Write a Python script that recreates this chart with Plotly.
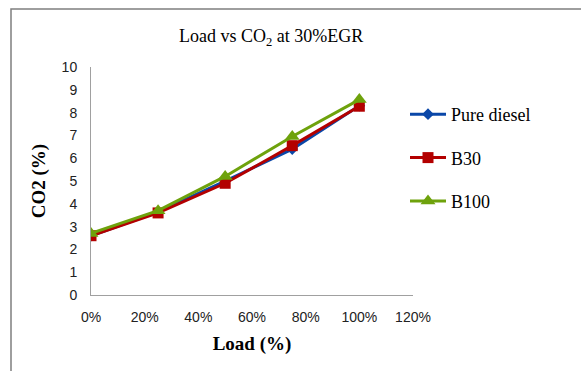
import plotly.graph_objects as go

load = [0, 0.25, 0.5, 0.75, 1.0]
pure_diesel = [2.6, 3.65, 5.0, 6.4, 8.3]
b30 = [2.6, 3.6, 4.9, 6.55, 8.28]
b100 = [2.7, 3.7, 5.2, 6.95, 8.57]

fig = go.Figure()
fig.add_trace(go.Scatter(x=load, y=pure_diesel, name="Pure diesel", mode="lines+markers", legendgroup="a",
                         line=dict(color="#0a47a8", width=3),
                         marker=dict(symbol="diamond", size=9, color="#0a47a8")))
fig.add_trace(go.Scatter(x=load, y=b30, name="B30", mode="lines+markers", legendgroup="b",
                         line=dict(color="#b30000", width=3),
                         marker=dict(symbol="square", size=11, color="#b30000")))
fig.add_trace(go.Scatter(x=load, y=b100, name="B100", mode="lines+markers", legendgroup="c",
                         line=dict(color="#6ea20c", width=3),
                         marker=dict(symbol="triangle-up", size=13, color="#6ea20c")))

L, R, T, B = 91, 168, 67, 76
pw = 581 - L - R
ph = 371 - T - B

def px(x):
    return (x - L) / pw

def py(y):
    return (371 - B - y) / ph

fig.update_layout(
    width=581, height=371,
    margin=dict(l=L, r=R, t=T, b=B),
    paper_bgcolor="white", plot_bgcolor="white",
    showlegend=True,
    legend=dict(x=px(405), y=py(96), xanchor="left", yanchor="top",
                font=dict(family="Liberation Serif", size=18, color="black"),
                tracegroupgap=17, itemwidth=36, bgcolor="rgba(0,0,0,0)"),
    annotations=[
        dict(text="Load vs CO<sub>2</sub> at 30%EGR", x=px(271), y=py(37), xref="paper", yref="paper",
             showarrow=False, xanchor="center", yanchor="middle",
             font=dict(family="Liberation Serif", size=18, color="black")),
    ],
    shapes=[
        dict(type="rect", xref="paper", yref="paper", x0=px(11), y0=py(400), x1=px(620), y1=py(9),
             line=dict(color="#7f7f7f", width=1.5), fillcolor="rgba(0,0,0,0)", layer="below"),
    ],
)
fig.update_xaxes(range=[0, 1.2], dtick=0.2, tickformat=".0%", showgrid=False, zeroline=False,
                 showline=True, linecolor="#a0a0a0", linewidth=1, ticks="", ticklabelstandoff=9,
                 tickfont=dict(family="Liberation Sans", size=14, color="#222"),
                 title=dict(text="<b>Load (%)</b>", font=dict(family="Liberation Serif", size=19, color="black"),
                            standoff=12))
fig.update_yaxes(range=[0, 10], dtick=1, showgrid=False, zeroline=False,
                 showline=True, linecolor="#a0a0a0", linewidth=1, ticks="", ticklabelstandoff=10,
                 tickfont=dict(family="Liberation Sans", size=14, color="#222"),
                 title=dict(text="<b>CO2 (%)</b>", font=dict(family="Liberation Serif", size=19, color="black"),
                            standoff=10))

fig.write_html("out.html")
